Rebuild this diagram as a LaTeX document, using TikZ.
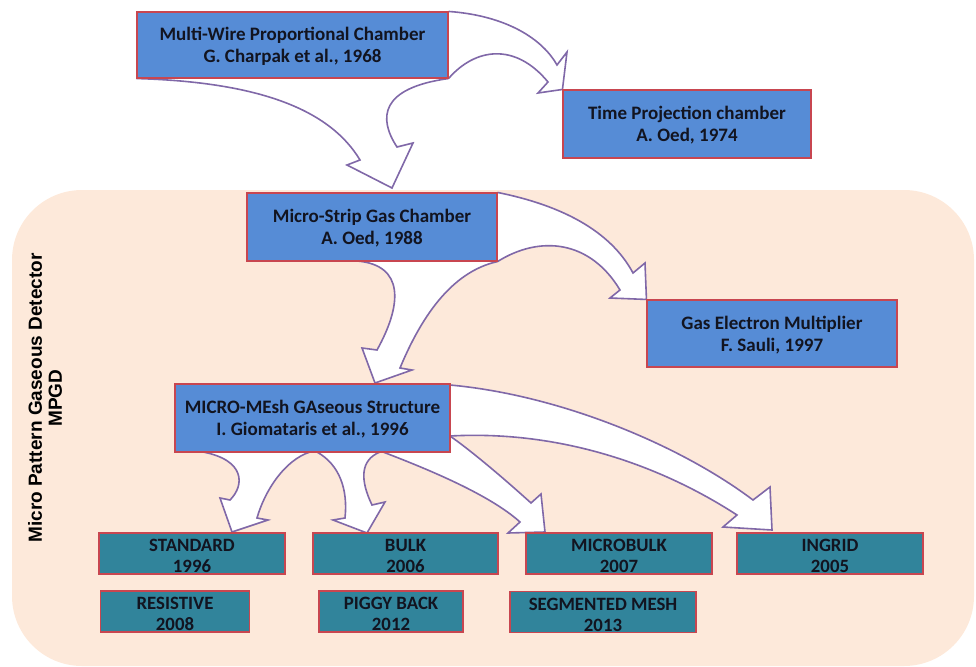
\documentclass[tikz,border=0pt]{standalone}
\usepackage{fontspec}
\newfontfamily\boxfont{Carlito}
\newfontfamily\sidefont{Liberation Sans}
\usetikzlibrary{calc}
\definecolor{peachC}{RGB}{253,233,218}
\definecolor{blueC}{RGB}{86,140,214}
\definecolor{tealC}{RGB}{49,132,155}
\definecolor{borderC}{RGB}{200,70,80}
\definecolor{arrowC}{RGB}{128,104,168}
\definecolor{textC}{RGB}{18,20,32}
\pgfdeclarelayer{zone}
\pgfdeclarelayer{arrows}
\pgfsetlayers{zone,arrows,main}
\tikzset{
  basebox/.style={rectangle, draw=borderC, line width=1.1pt, inner sep=0pt, align=center, text=textC},
  bluebox/.style={basebox, fill=blueC, font=\boxfont\bfseries\fontsize{19}{22}\selectfont},
  tealbox/.style={basebox, fill=tealC, minimum height=41pt, font=\boxfont\bfseries\fontsize{18.8}{21}\selectfont},
  arrowline/.style={draw=arrowC, line width=1.6pt, line join=miter},
}
\newcommand\flowarrow[1]{\fill[white] #1 -- cycle; \draw[arrowline] #1;}
\newcommand\bl[2]{\rule{0pt}{16pt}#1\\#2}
\newcommand\tl[2]{\rule{0pt}{17.5pt}#1\\#2}
\begin{document}
\begin{tikzpicture}[x=1pt,y=-1pt]
\useasboundingbox (0,0) rectangle (976,666);
\begin{pgfonlayer}{zone}
  \fill[peachC, rounded corners=70pt] (12,190) rectangle (974,666);
\end{pgfonlayer}

% main boxes
\node[bluebox, minimum width=311pt, minimum height=66pt] (mwpc) at (292.5,45) {\bl{Multi-Wire Proportional Chamber}{G. Charpak et al., 1968}};
\node[bluebox, minimum width=248pt, minimum height=68pt] (tpc) at (687,124) {\bl{Time Projection chamber}{A. Oed, 1974}};
\node[bluebox, minimum width=250pt, minimum height=68pt] (msgc) at (372,227) {\bl{Micro-Strip Gas Chamber}{A. Oed, 1988}};
\node[bluebox, minimum width=250pt, minimum height=67pt] (gem) at (772,333.5) {\bl{Gas Electron Multiplier}{F. Sauli, 1997}};
\node[bluebox, minimum width=275pt, minimum height=68pt] (mm) at (312.5,418) {\bl{MICRO-MEsh GAseous Structure}{I. Giomataris et al., 1996}};

% variants
\node[tealbox, minimum width=186pt] (std) at (192,553.5) {\tl{STANDARD}{1996}};
\node[tealbox, minimum width=185pt] (bulk) at (405.5,553.5) {\tl{BULK}{2006}};
\node[tealbox, minimum width=186pt] (mbulk) at (619,553.5) {\tl{MICROBULK}{2007}};
\node[tealbox, minimum width=186pt] (ingrid) at (830,553.5) {\tl{INGRID}{2005}};
\node[tealbox, minimum width=149pt] (resist) at (175,611.5) {\tl{RESISTIVE}{2008}};
\node[tealbox, minimum width=144pt] (piggy) at (391,611.5) {\tl{PIGGY BACK}{2012}};
\node[tealbox, minimum width=186pt] (segm) at (603,612) {\tl{SEGMENTED MESH}{2013}};

% side label
\node[rotate=90, align=center, text=black, font=\sidefont\bfseries\fontsize{19}{20}\selectfont] (mpgdlabel) at (45,398) {Micro Pattern Gaseous Detector\\MPGD};

% curved block arrows
\begin{pgfonlayer}{arrows}
% MWPC -> TPC
\flowarrow{(mwpc.north east) .. controls (500,15) and (540,35) .. (557,65) -- (567,52) -- (tpc.north west) -- (538,93) -- (548,82) .. controls (515,42) and (475,48) .. (mwpc.south east)}
% MWPC -> MSGC
\flowarrow{(mwpc.south west) .. controls (260,82) and (330,110) .. (360,160) -- (347,165) -- (392,188) -- (413,143) -- (397,147) .. controls (378,118) and (380,88) .. (mwpc.south east)}
% MSGC -> MicroMegas
\flowarrow{(357,261) .. controls (405,265) and (402,305) .. (377,350) -- (362,348) -- (375,383) -- (412,370) -- (400,368) .. controls (420,320) and (450,272) .. (msgc.south east)}
% MSGC -> GEM
\flowarrow{(msgc.north east) .. controls (560,205) and (610,230) .. (633,273) -- (645,263) -- (gem.north west) -- (610,298) -- (620,290) .. controls (590,240) and (540,235) .. (msgc.south east)}
% MM -> STANDARD
\flowarrow{(203,452) .. controls (245,460) and (245,485) .. (230,500) -- (220,498) -- (232,532) -- (268,520) -- (257,518) .. controls (265,490) and (285,460) .. (310,452)}
% MM -> BULK
\flowarrow{(317,452) .. controls (340,465) and (348,490) .. (345,518) -- (333,520) -- (367,533) -- (385,502) -- (372,505) .. controls (360,480) and (360,460) .. (380,452)}
% MM -> MICROBULK
\flowarrow{(383,452) .. controls (430,470) and (490,495) .. (520,522) -- (508,533) -- (545,532) -- (541,494) -- (531,503) .. controls (500,475) and (470,450) .. (450,436)}
% MM -> INGRID
\flowarrow{(450,385) .. controls (560,395) and (680,445) .. (753,500) -- (770,487) -- (772,530) -- (723,527) -- (737,515) .. controls (660,465) and (560,430) .. (450,436)}
\end{pgfonlayer}
\end{tikzpicture}
\end{document}
